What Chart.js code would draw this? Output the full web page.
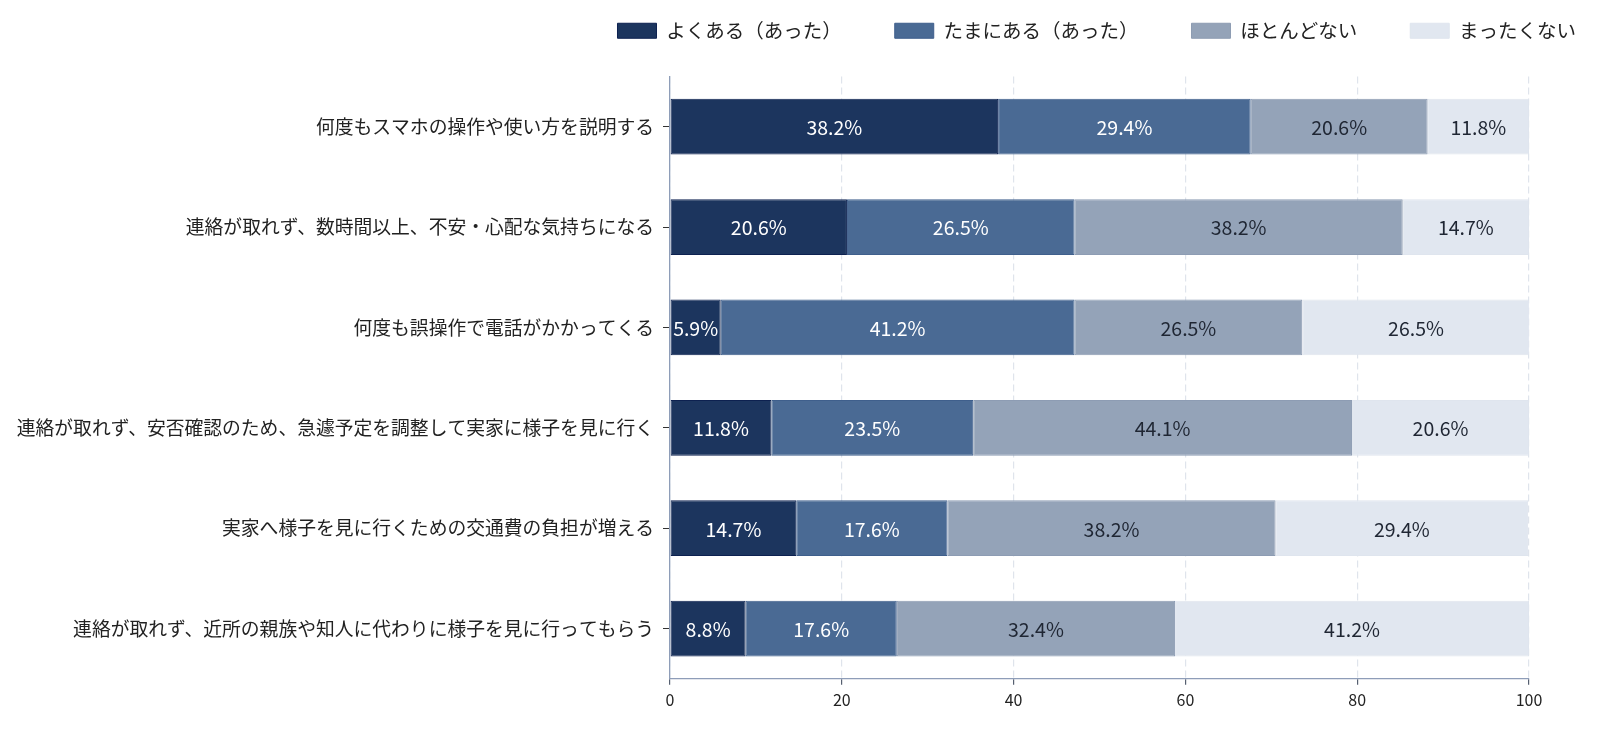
<!DOCTYPE html>
<html>
<head>
<meta charset="utf-8">
<script src="https://cdn.jsdelivr.net/npm/chart.js@4/dist/chart.umd.min.js"></script>
<style>
  html, body { margin: 0; padding: 0; background: #fff; }
  .wrap { width: 1600px; height: 730px; }
</style>
</head>
<body>
<div class="wrap"><canvas id="chart"></canvas></div>
<script>
const categories = [
	'何度もスマホの操作や使い方を説明する',
	'連絡が取れず、数時間以上、不安・心配な気持ちになる',
	'何度も誤操作で電話がかかってくる',
	'連絡が取れず、安否確認のため、急遽予定を調整して実家に様子を見に行く',
	'実家へ様子を見に行くための交通費の負担が増える',
	'連絡が取れず、近所の親族や知人に代わりに様子を見に行ってもらう'
];
const seriesNames = ['よくある（あった）', 'たまにある（あった）', 'ほとんどない', 'まったくない'];
const often = [38.2, 20.6, 5.9, 11.8, 14.7, 8.8];
const sometimes = [29.4, 26.5, 41.2, 23.5, 17.6, 17.6];
const rarely = [20.6, 38.2, 26.5, 44.1, 38.2, 32.4];
const never = [11.8, 14.7, 26.5, 20.6, 29.4, 41.2];
const xTicks = [0, 20, 40, 60, 80, 100];

const fills = ['#1c355e', '#4a6a94', '#94a3b8', '#e1e7f0'];
const edges = ['#0d2150', '#3f5f8c', '#8d9cb3', '#dfe5ee'];
const labelColors = ['#ffffff', '#ffffff', '#1f2633', '#1f2633'];
const fontFamily = '"Noto Sans CJK JP", "Noto Sans", sans-serif';

// draws the percentage in the middle of each segment
const barLabels = {
	id: 'barLabels',
	afterDatasetsDraw(chart) {
		const ctx = chart.ctx;
		ctx.save();
		ctx.font = '19.5px ' + fontFamily;
		ctx.textAlign = 'center';
		ctx.textBaseline = 'middle';
		chart.data.datasets.forEach(function (ds, i) {
			const meta = chart.getDatasetMeta(i);
			meta.data.forEach(function (bar, j) {
				ctx.fillStyle = labelColors[i];
				ctx.fillText(ds.data[j].toFixed(1) + '%', (bar.x + bar.base) / 2, bar.y + 1);
			});
		});
		ctx.restore();
	}
};

// empty axes, only used to reserve space
const spacer = (pos, axis, size) => ({
	position: pos,
	axis: axis,
	type: 'linear',
	display: true,
	grid: { display: false },
	border: { display: false },
	ticks: { display: false },
	afterFit: (scale) => {
		if (axis === 'x') scale.height = size;
		else scale.width = size;
	}
});

const values = [often, sometimes, rarely, never];
new Chart(document.getElementById('chart'), {
	type: 'bar',
	data: {
		labels: categories,
		datasets: values.map(function (v, i) {
			return {
				label: seriesNames[i],
				data: v,
				backgroundColor: fills[i],
				borderColor: edges[i],
				borderWidth: 1,
				borderSkipped: false,
				categoryPercentage: 1,
				barPercentage: 0.555
			};
		})
	},
	options: {
		indexAxis: 'y',
		responsive: true,
		maintainAspectRatio: false,
		animation: false,
		layout: { padding: { top: -32, right: -29, bottom: 14, left: 0 } },
		scales: {
			x: {
				stacked: true,
				min: 0,
				max: 100,
				afterBuildTicks: (scale) => {
					scale.ticks = xTicks.map((v) => ({ value: v }));
				},
				grid: {
					color: '#dfe4ec',
					tickColor: '#555f70',
					tickLength: 6,
					tickBorderDash: [],
					lineWidth: 1.2
				},
				border: { color: '#8e9db8', width: 1.3, dash: [7, 4] },
				ticks: {
					color: '#222',
					padding: 6,
					font: { family: fontFamily, size: 16 }
				}
			},
			y: {
				stacked: true,
				afterFit: (scale) => {
					scale.width = 670;
				},
				border: { color: '#8e9db8', width: 1.3 },
				grid: {
					offset: false,
					drawOnChartArea: false,
					tickColor: '#333',
					tickLength: 7
				},
				ticks: {
					color: '#222',
					padding: 9,
					font: { family: fontFamily, size: 18.8 }
				}
			},
			padRight: spacer('right', 'y', 100),
			padTop: spacer('top', 'x', 26)
		},
		plugins: {
			legend: {
				position: 'top',
				align: 'end',
				labels: {
					boxWidth: 39,
					boxHeight: 15,
					padding: 53,
					color: '#222',
					font: { family: fontFamily, size: 19.5 }
				}
			},
			tooltip: { enabled: false }
		}
	},
	plugins: [barLabels]
});
</script>
</body>
</html>
